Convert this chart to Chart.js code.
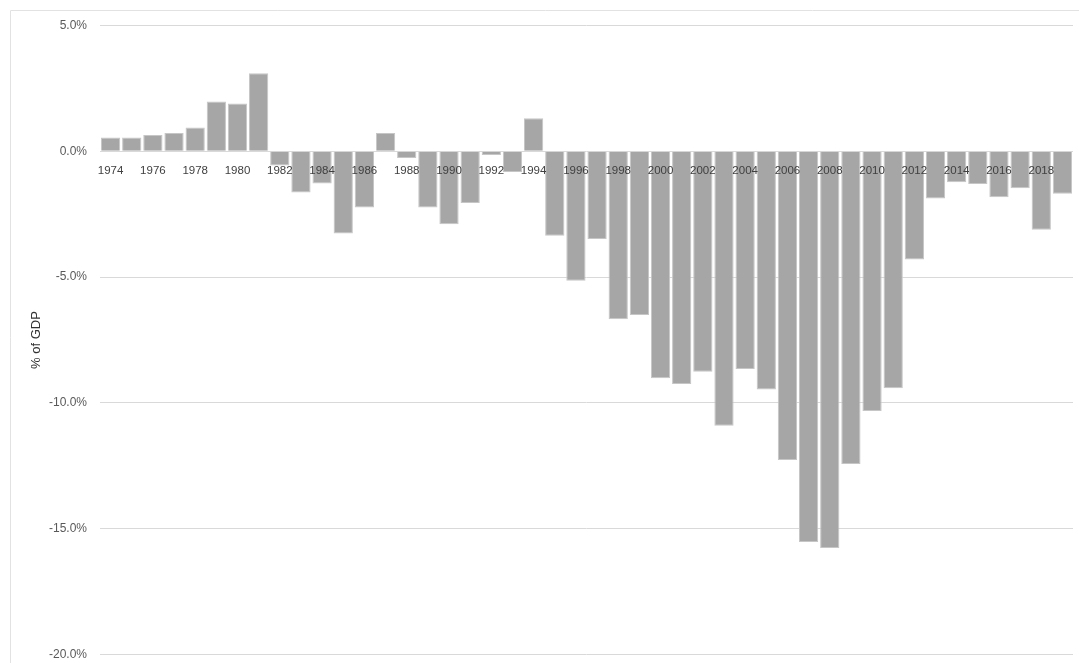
<!DOCTYPE html>
<html>
<head>
<meta charset="utf-8">
<title>Balance, % of GDP</title>
<script src="https://cdn.jsdelivr.net/npm/chart.js@4.4.1/dist/chart.umd.min.js"></script>
<style>
  html, body { margin: 0; padding: 0; background: #ffffff; }
  #wrap { position: relative; width: 1079px; height: 663px; }
</style>
</head>
<body>
<div id="wrap"><canvas id="chart" width="1079" height="663"></canvas></div>
<script>
// Years on the category axis
const years = [
  '1974','1975','1976','1977','1978','1979','1980','1981','1982','1983',
  '1984','1985','1986','1987','1988','1989','1990','1991','1992','1993',
  '1994','1995','1996','1997','1998','1999','2000','2001','2002','2003',
  '2004','2005','2006','2007','2008','2009','2010','2011','2012','2013',
  '2014','2015','2016','2017','2018','2019'
];

// Annual balance, percent of GDP
const balancePct = [
  0.55, 0.55, 0.65, 0.73, 0.95, 1.98, 1.90, 3.10, -0.56, -1.64,
  -1.28, -3.27, -2.23, 0.73, -0.27, -2.23, -2.90, -2.05, -0.15, -0.82,
  1.31, -3.36, -5.15, -3.49, -6.68, -6.51, -9.02, -9.25, -8.76, -10.91,
  -8.65, -9.47, -12.27, -15.53, -15.77, -12.43, -10.32, -9.42, -4.30, -1.88,
  -1.23, -1.30, -1.83, -1.47, -3.12, -1.69
];

// Value-axis ticks
const yTicks = [5, 0, -5, -10, -15, -20];
const yTitle = '% of GDP';

// Thin frame around the whole chart
const framePlugin = {
  id: 'frame',
  beforeDraw(chart) {
    const ctx = chart.ctx;
    ctx.save();
    ctx.strokeStyle = '#e2e2e2';
    ctx.lineWidth = 1;
    ctx.beginPath();
    ctx.moveTo(10.5, chart.height + 5);
    ctx.lineTo(10.5, 10.5);
    ctx.lineTo(chart.width + 5, 10.5);
    ctx.stroke();
    ctx.restore();
  }
};

new Chart(document.getElementById('chart'), {
  type: 'bar',
  data: {
    labels: years,
    datasets: [{
      data: balancePct,
      backgroundColor: '#a6a6a6',
      borderColor: '#c6c6c6',
      borderWidth: 1,
      barPercentage: 0.91,
      categoryPercentage: 1.0
    }]
  },
  options: {
    responsive: false,
    devicePixelRatio: 1,
    animation: false,
    layout: { padding: { left: 10, top: 25.5, right: 6, bottom: 8.5 } },
    plugins: {
      legend: { display: false },
      tooltip: { enabled: false },
      title: { display: false }
    },
    scales: {
      x: {
        type: 'category',
        position: { y: 0 },
        offset: true,
        afterFit(scale) { scale.height = 0; },
        grid: { display: false, drawTicks: false },
        border: { display: false },
        ticks: {
          z: 1,
          autoSkip: false,
          maxRotation: 0,
          minRotation: 0,
          padding: 13,
          color: '#404040',
          font: { family: 'Liberation Sans', size: 11.5 },
          callback: function (value, index) {
            return index % 2 === 0 ? this.getLabelForValue(value) : '';
          }
        }
      },
      y: {
        min: Math.min(...yTicks),
        max: Math.max(...yTicks),
        afterFit(scale) {
          scale.width = 90;
          scale.paddingTop = 0;
          scale.paddingBottom = 0;
        },
        afterBuildTicks(scale) {
          scale.ticks = yTicks.slice().sort((a, b) => a - b).map(v => ({ value: v }));
        },
        grid: {
          color: '#d9d9d9',
          lineWidth: 1,
          drawTicks: false
        },
        border: { display: false },
        ticks: {
          padding: 13,
          color: '#595959',
          font: { family: 'Liberation Sans', size: 12 },
          callback: v => v.toFixed(1) + '%'
        },
        title: {
          display: true,
          text: yTitle,
          color: '#333333',
          font: { family: 'Liberation Sans', size: 13 },
          padding: { top: 19, bottom: 0 }
        }
      }
    }
  },
  plugins: [framePlugin]
});
</script>
</body>
</html>
